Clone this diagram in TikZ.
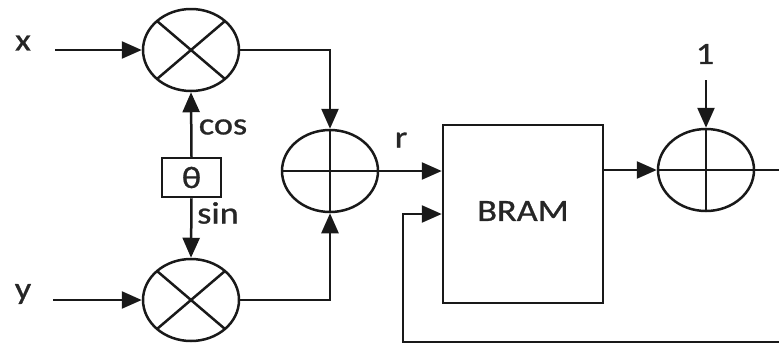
\documentclass[tikz,border=0pt]{standalone}
\usepackage{graphicx}
\usepackage{fontspec}
\setmainfont{Carlito}
\newfontfamily\lblfont{Carlito}[FakeBold=0.8]
\usetikzlibrary{arrows.meta,shapes.geometric,calc}
\newcommand{\hsx}[1]{\scalebox{1.17}[1]{#1}}
\tikzset{
  wire/.style={line width=2.5pt, draw=black!90},
  sig/.style={wire, -{Triangle[length=20pt,width=17pt]}},
  opnode/.style={ellipse, draw=black!90, line width=2.5pt, minimum width=96pt, minimum height=82pt, inner sep=0pt},
  boxnode/.style={rectangle, draw=black!90, line width=2.5pt, inner sep=0pt},
  lbl/.style={inner sep=0pt, font=\lblfont\fontsize{31}{34}\selectfont, text=black!85},
}
\begin{document}
\begin{tikzpicture}[x=1pt,y=-1pt]
\useasboundingbox (0,0) rectangle (779,349);
% operators
\node[opnode] (mx) at (191,50) {};
\node[opnode] (my) at (191,300) {};
\node[opnode] (add1) at (330,171) {};
\node[opnode] (add2) at (706,170) {};
\draw[wire] ($(mx)+(-34,-29)$) -- ($(mx)+(34,29)$) ($(mx)+(-34,29)$) -- ($(mx)+(34,-29)$);
\draw[wire] ($(my)+(-34,-29)$) -- ($(my)+(34,29)$) ($(my)+(-34,29)$) -- ($(my)+(34,-29)$);
\draw[wire] (add1.west) -- (add1.east) (add1.north) -- (add1.south);
\draw[wire] (add2.west) -- (add2.east) (add2.north) -- (add2.south);
% boxes
\node[boxnode, minimum width=59pt, minimum height=39pt] (th) at (191.5,177.5) {};
\node[lbl] at (th) {\hsx{θ}};
\node[boxnode, minimum width=160pt, minimum height=178pt] (bram) at (523,214) {};
\node[lbl] (bramlbl) at (523,211) {\hsx{BRAM}};
% labels
\node[lbl] (xlab) at (23,43) {\hsx{x}};
\node[lbl] (ylab) at (23,294) {\hsx{y}};
\node[lbl] (coslab) at (223,127) {\hsx{cos}};
\node[lbl] (sinlab) at (218,213) {\hsx{sin}};
\node[lbl] (rlab) at (401,140) {\hsx{r}};
\node[lbl] (onelab) at (705,54) {\hsx{1}};
% coordinates
\coordinate (xin) at (55,50);
\coordinate (yin) at (53,300);
\coordinate (onein) at (706,80);
\coordinate (outR) at (779,170);
\coordinate (fbR) at (779,342);
\coordinate (fbL) at (403,342);
% connectors
\draw[sig] (xin) -- (mx.west);
\draw[sig] (yin) -- (my.west);
\draw[sig] (th.north) -- (mx.south);
\draw[sig] (th.south) -- (my.north);
\draw[sig] (mx.east) -| (add1.north);
\draw[sig] (my.east) -| (add1.south);
\draw[sig] (add1.east) -- (add1.east -| bram.west);
\draw[sig] (add2.west -| bram.east) -- (add2.west);
\draw[sig] (onein) -- (add2.north);
\draw[wire] (add2.east) -- (outR);
\draw[sig] (fbR) -- (fbL) |- (bram.west);
\end{tikzpicture}
\end{document}
